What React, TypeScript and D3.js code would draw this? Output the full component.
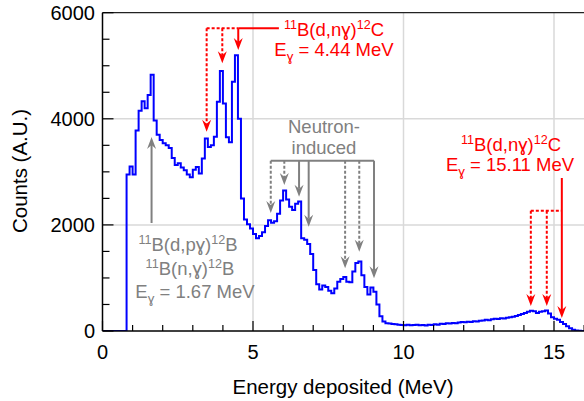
import React from "react";
import * as d3 from "d3";

// Histogram of deposited energy, 0.1 MeV bins starting at 0 MeV
const BIN_WIDTH_MEV = 0.1;
const counts: number[] = [
  0, 0, 0, 0, 0, 0, 0, 0, 2950, 3100,
  2950, 3780, 4150, 4330, 4200, 4450, 4830, 3970, 3700, 3600,
  3540, 3500, 3450, 3260, 3130, 3160, 3080, 3030, 2950, 2900,
  3040, 3090, 2970, 3250, 3630, 3470, 3500, 3660, 4320, 4900,
  4290, 3650, 3560, 4700, 5200, 4000, 2500, 2100, 2010, 1930,
  1830, 1750, 1790, 1860, 1980, 2090, 2040, 2070, 2210, 2460,
  2650, 2480, 2340, 2280, 2400, 2440, 1750, 1720, 1640, 1450,
  1150, 880, 780, 860, 830, 760, 710, 800, 930, 980,
  1020, 930, 920, 1120, 1280, 1310, 1050, 830, 690, 820,
  740, 500, 280, 180, 145, 140, 130, 125, 120, 115,
  110, 120, 110, 115, 120, 110, 115, 105, 120, 115,
  125, 120, 135, 130, 145, 140, 150, 145, 160, 170,
  165, 175, 170, 185, 180, 195, 200, 210, 205, 220,
  230, 225, 240, 235, 250, 260, 270, 285, 300, 320,
  340, 365, 380, 370, 340, 365, 370, 385, 330, 260,
  230, 210, 170, 130, 90, 50, 25, 10, 5, 0,
];

const xMajorTicks = [0, 5, 10, 15];
const xMinorTicks = d3.range(0, 17, 1);
const yMajorTicks = [0, 2000, 4000, 6000];
const yMinorTicks = d3.range(0, 6001, 500);
const xGrid = [5, 10, 15];
const yGrid = [2000, 4000];

// annotation anchors (energy in MeV, heights in counts)
const c12LowArrows = [
  { e: 3.46, tip: 3757, dashed: true },
  { e: 3.98, tip: 5046, dashed: true },
  { e: 4.51, tip: 5297, dashed: false },
];
const c12LowBar = 5706;
const c12LowBarEnd = 5.86;
const c12HighArrows = [
  { e: 14.23, tip: 471, dashed: true },
  { e: 14.76, tip: 471, dashed: true },
  { e: 15.26, tip: 245, dashed: false },
];
const c12HighBar = 2268;
const c12HighTop = 2884;
const b12Arrow = { e: 1.63, from: 2036, tip: 3657 };
const neutronArrows = [
  { e: 5.59, tip: 2224, dashed: true },
  { e: 6.04, tip: 2752, dashed: true },
  { e: 6.53, tip: 2532, dashed: false },
  { e: 6.85, tip: 1966, dashed: false },
  { e: 8.06, tip: 1182, dashed: true },
  { e: 8.53, tip: 1495, dashed: true },
  { e: 9.02, tip: 993, dashed: false },
];
const neutronBar = 3210;

const RED = "#ff0000";
const GRAY = "#808080";
const FONT = "'Liberation Sans', Arial, Helvetica, sans-serif";

function headDown(x: number, yTip: number) {
  return `M${x},${yTip} L${x - 4.5},${yTip - 12} L${x},${yTip - 8} L${x + 4.5},${yTip - 12} Z`;
}
function headUp(x: number, yTip: number) {
  return `M${x},${yTip} L${x - 4.5},${yTip + 12} L${x},${yTip + 8} L${x + 4.5},${yTip + 12} Z`;
}

function Reaction({ x, y, a, b, c, color }: any) {
  return (
    <text x={x} y={y} textAnchor="middle" fill={color} fontSize={18.5} fontFamily={FONT}>
      <tspan fontSize="0.68em" dy={-7}>{"11"}</tspan>
      <tspan dy={7}>{a}</tspan>
      <tspan fontSize="0.68em" dy={-7}>{b}</tspan>
      <tspan dy={7}>{c}</tspan>
    </text>
  );
}
function EGamma({ x, y, value, color }: any) {
  return (
    <text x={x} y={y} textAnchor="middle" fill={color} fontSize={18.5} fontFamily={FONT}>
      <tspan>E</tspan>
      <tspan fontSize="0.72em" dy={5}>{"ɣ"}</tspan>
      <tspan dy={-5}>{` = ${value} MeV`}</tspan>
    </text>
  );
}

export default function App() {
  const W = 584;
  const H = 401;
  const x = d3.scaleLinear().domain([0, 16]).range([102.5, 584.1]);
  const y = d3.scaleLinear().domain([0, 6000]).range([331, 12.7]);

  const pts: [number, number][] = counts.map((c, i) => [i * BIN_WIDTH_MEV, c]);
  pts.push([counts.length * BIN_WIDTH_MEV, counts[counts.length - 1]]);
  const line = d3
    .line<[number, number]>()
    .x((d) => x(d[0]))
    .y((d) => y(d[1]))
    .curve(d3.curveStepAfter);

  const x0 = x(0);
  const x1 = W;
  const yB = y(0);
  const yT = y(6000);

  return (
    <svg
      width={W}
      height={H}
      style={{ position: "absolute", left: 0, top: 0, background: "#fff" }}
      fontFamily={FONT}
    >
      <defs>
        <clipPath id="plot">
          <rect x={x0} y={yT} width={x1 - x0} height={yB - yT} />
        </clipPath>
      </defs>
      <rect x={0} y={0} width={W} height={H} fill="#fff" />
      {/* grid */}
      {xGrid.map((g) => (
        <line key={"gx" + g} x1={x(g)} x2={x(g)} y1={yT} y2={yB} stroke="#d9d9d9" strokeWidth={1.5} />
      ))}
      {yGrid.map((g) => (
        <line key={"gy" + g} x1={x0} x2={x1} y1={y(g)} y2={y(g)} stroke="#d9d9d9" strokeWidth={1.5} />
      ))}

      {/* spectrum */}
      <path d={line(pts) || ""} fill="none" stroke="#0000ff" strokeWidth={2} clipPath="url(#plot)" />

      {/* frame and ticks */}
      <line x1={x0} x2={x1} y1={yT} y2={yT} stroke="#222" strokeWidth={1.2} />
      <line x1={x0} x2={x0} y1={yT} y2={yB} stroke="#000" strokeWidth={1.5} />
      <line x1={x0} x2={x1} y1={yB} y2={yB} stroke="#000" strokeWidth={1.5} />
      {xMinorTicks.map((t) => (
        <line
          key={"xt" + t}
          x1={x(t)}
          x2={x(t)}
          y1={yB}
          y2={yB - (xMajorTicks.includes(t) ? 10 : 6)}
          stroke="#000"
          strokeWidth={1.2}
        />
      ))}
      {yMinorTicks.map((t) => (
        <line
          key={"yt" + t}
          x1={x0}
          x2={x0 + (yMajorTicks.includes(t) ? 11 : 7)}
          y1={y(t)}
          y2={y(t)}
          stroke="#000"
          strokeWidth={1.2}
        />
      ))}
      {xMajorTicks.map((t) => (
        <text key={"xl" + t} x={x(t)} y={359} textAnchor="middle" fontSize={20} fill="#000">
          {t}
        </text>
      ))}
      {yMajorTicks.map((t) => (
        <text key={"yl" + t} x={95} y={y(t) + 7} textAnchor="end" fontSize={20} fill="#000">
          {t}
        </text>
      ))}
      <text x={343} y={394} textAnchor="middle" fontSize={20.5} fill="#000">
        Energy deposited (MeV)
      </text>
      <text
        transform={`translate(27,171) rotate(-90)`}
        textAnchor="middle"
        fontSize={20.5}
        fill="#000"
      >
        Counts (A.U.)
      </text>

      {/* 4.44 MeV annotation */}
      <line x1={x(c12LowArrows[0].e)} x2={x(c12LowArrows[2].e)} y1={y(c12LowBar)} y2={y(c12LowBar)} stroke={RED} strokeWidth={2} strokeDasharray="3,2" />
      <line x1={x(c12LowArrows[2].e)} x2={x(c12LowBarEnd)} y1={y(c12LowBar)} y2={y(c12LowBar)} stroke={RED} strokeWidth={2} />
      {c12LowArrows.map((a, i) => (
        <g key={"lr" + i}>
          <line x1={x(a.e)} x2={x(a.e)} y1={y(c12LowBar)} y2={y(a.tip) - 8} stroke={RED} strokeWidth={2} strokeDasharray={a.dashed ? "3,2" : undefined} />
          <path d={headDown(x(a.e), y(a.tip))} fill={RED} />
        </g>
      ))}
      <Reaction x={334} y={36} a="B(d,nɣ)" b="12" c="C" color={RED} />
      <EGamma x={334} y={56} value="4.44" color={RED} />

      {/* 15.11 MeV annotation */}
      <line x1={x(c12HighArrows[0].e)} x2={x(c12HighArrows[2].e)} y1={y(c12HighBar)} y2={y(c12HighBar)} stroke={RED} strokeWidth={2} strokeDasharray="3,2" />
      {c12HighArrows.map((a, i) => (
        <g key={"hr" + i}>
          <line
            x1={x(a.e)}
            x2={x(a.e)}
            y1={y(a.dashed ? c12HighBar : c12HighTop)}
            y2={y(a.tip) - 8}
            stroke={RED}
            strokeWidth={2}
            strokeDasharray={a.dashed ? "3,2" : undefined}
          />
          <path d={headDown(x(a.e), y(a.tip))} fill={RED} />
        </g>
      ))}
      <Reaction x={511} y={151} a="B(d,nɣ)" b="12" c="C" color={RED} />
      <EGamma x={510} y={171} value="15.11" color={RED} />

      {/* 1.67 MeV annotation */}
      <line x1={x(b12Arrow.e)} x2={x(b12Arrow.e)} y1={y(b12Arrow.from)} y2={y(b12Arrow.tip) + 8} stroke={GRAY} strokeWidth={2} />
      <path d={headUp(x(b12Arrow.e), y(b12Arrow.tip))} fill={GRAY} />
      <Reaction x={188} y={251} a="B(d,pɣ)" b="12" c="B" color={GRAY} />
      <Reaction x={190} y={275} a="B(n,ɣ)" b="12" c="B" color={GRAY} />
      <EGamma x={195} y={298} value="1.67" color={GRAY} />

      {/* neutron-induced annotation */}
      <line
        x1={x(neutronArrows[0].e)}
        x2={x(neutronArrows[neutronArrows.length - 1].e)}
        y1={y(neutronBar)}
        y2={y(neutronBar)}
        stroke={GRAY}
        strokeWidth={2}
      />
      {neutronArrows.map((a, i) => (
        <g key={"na" + i}>
          <line x1={x(a.e)} x2={x(a.e)} y1={y(neutronBar)} y2={y(a.tip) - 8} stroke={GRAY} strokeWidth={2} strokeDasharray={a.dashed ? "3,2" : undefined} />
          <path d={headDown(x(a.e), y(a.tip))} fill={GRAY} />
        </g>
      ))}
      <text x={324} y={133} textAnchor="middle" fontSize={18.5} fill={GRAY}>
        Neutron-
      </text>
      <text x={324} y={154} textAnchor="middle" fontSize={18.5} fill={GRAY}>
        induced
      </text>
    </svg>
  );
}
